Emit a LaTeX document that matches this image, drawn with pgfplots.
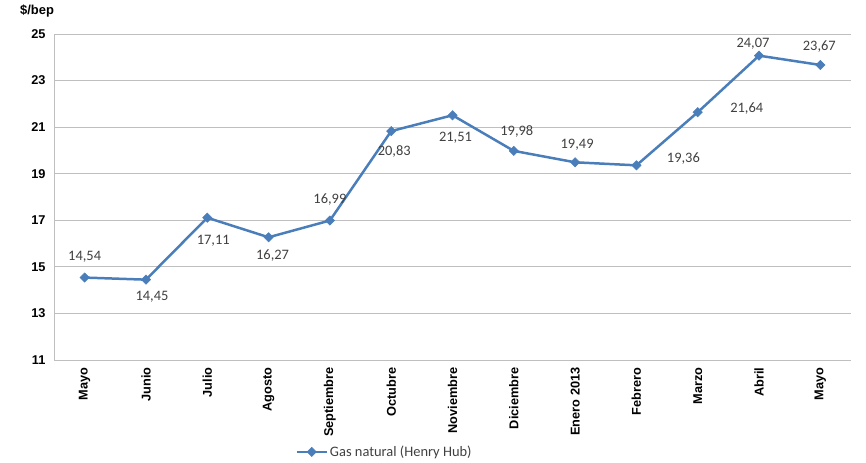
\documentclass[border=0pt]{standalone}
\usepackage{pgfplots}
\pgfplotsset{compat=1.18}
\usepackage{pgfplotstable}
\usepackage{fontspec}
\setmainfont{Liberation Sans}
\newfontfamily\calibri{Carlito}
\definecolor{serie}{HTML}{4A7EBB}
\definecolor{rejilla}{HTML}{BFBFBF}
\definecolor{etiq}{HTML}{404040}

% x y dx dy  (dx, dy = desplazamiento de la etiqueta, en bp)
\pgfplotstableread{
x y dx dy
0 14.54 0 21
1 14.45 6 -17
2 17.11 6 -23
3 16.27 4 -18
4 16.99 0 21
5 20.83 3 -20
6 21.51 3 -22
7 19.98 3 19
8 19.49 2 18
9 19.36 47 7
10 21.64 49 4
11 24.07 -6 12
12 23.67 -1 18
}\gasdata

\begin{document}
\begin{tikzpicture}
\begin{axis}[
    scale only axis,
    width=797bp, height=326bp,
    xmin=-0.5, xmax=12.5,
    ymin=11, ymax=25,
    ytick={11,13,...,25},
    xtick={0,...,12},
    xticklabels={Mayo,Junio,Julio,Agosto,Septiembre,Octubre,Noviembre,Diciembre,Enero 2013,Febrero,Marzo,Abril,Mayo},
    x tick label style={rotate=90, anchor=east, font=\bfseries\fontsize{12.8}{15}\selectfont},
    y tick label style={font=\bfseries\fontsize{12.8}{15}\selectfont},
    /pgf/number format/assume math mode=true,
    major tick length=0pt,
    axis x line*=bottom,
    axis y line*=left,
    axis line style={rejilla, line width=1pt, -},
    ymajorgrids=true,
    grid style={rejilla, line width=1pt},
    xticklabel shift=4bp,
    yticklabel shift=5bp,
    legend style={at={(0.299,-0.282)}, anchor=west, draw=none, fill=none,
        font=\calibri\fontsize{14.5}{16}\selectfont, text=etiq,
        /tikz/every even column/.append style={column sep=2pt}},
    legend image code/.code={
        \draw[#1, mark repeat=2, mark phase=2] plot coordinates {(0bp,0bp) (15bp,0bp) (30bp,0bp)};
    },
]
\addplot[
    color=serie, line width=2.5pt,
    mark=square*, mark size=3.3bp,
    mark options={fill=serie, line width=0.5pt, rotate=45},
    visualization depends on={\thisrow{dx} \as \dx},
    visualization depends on={\thisrow{dy} \as \dy},
    nodes near coords={\pgfmathprintnumber[fixed, fixed zerofill, precision=2, use comma]{\pgfplotspointmeta}},
    every node near coord/.append style={anchor=center, xshift=\dx bp, yshift=\dy bp,
        font=\calibri\fontsize{14.5}{16}\selectfont, text=etiq},
    point meta=y,
] table[x=x, y=y] {\gasdata};
\addlegendentry{Gas natural (Henry Hub)}
\end{axis}
\node[font=\bfseries\fontsize{13}{15}\selectfont] at ([xshift=-17bp, yshift=23bp]current axis.north west) {\$/bep};
\path ([shift={(-54bp,-103bp)}]current axis.south west) rectangle ([shift={(15bp,34bp)}]current axis.north east);
\end{tikzpicture}
\end{document}
